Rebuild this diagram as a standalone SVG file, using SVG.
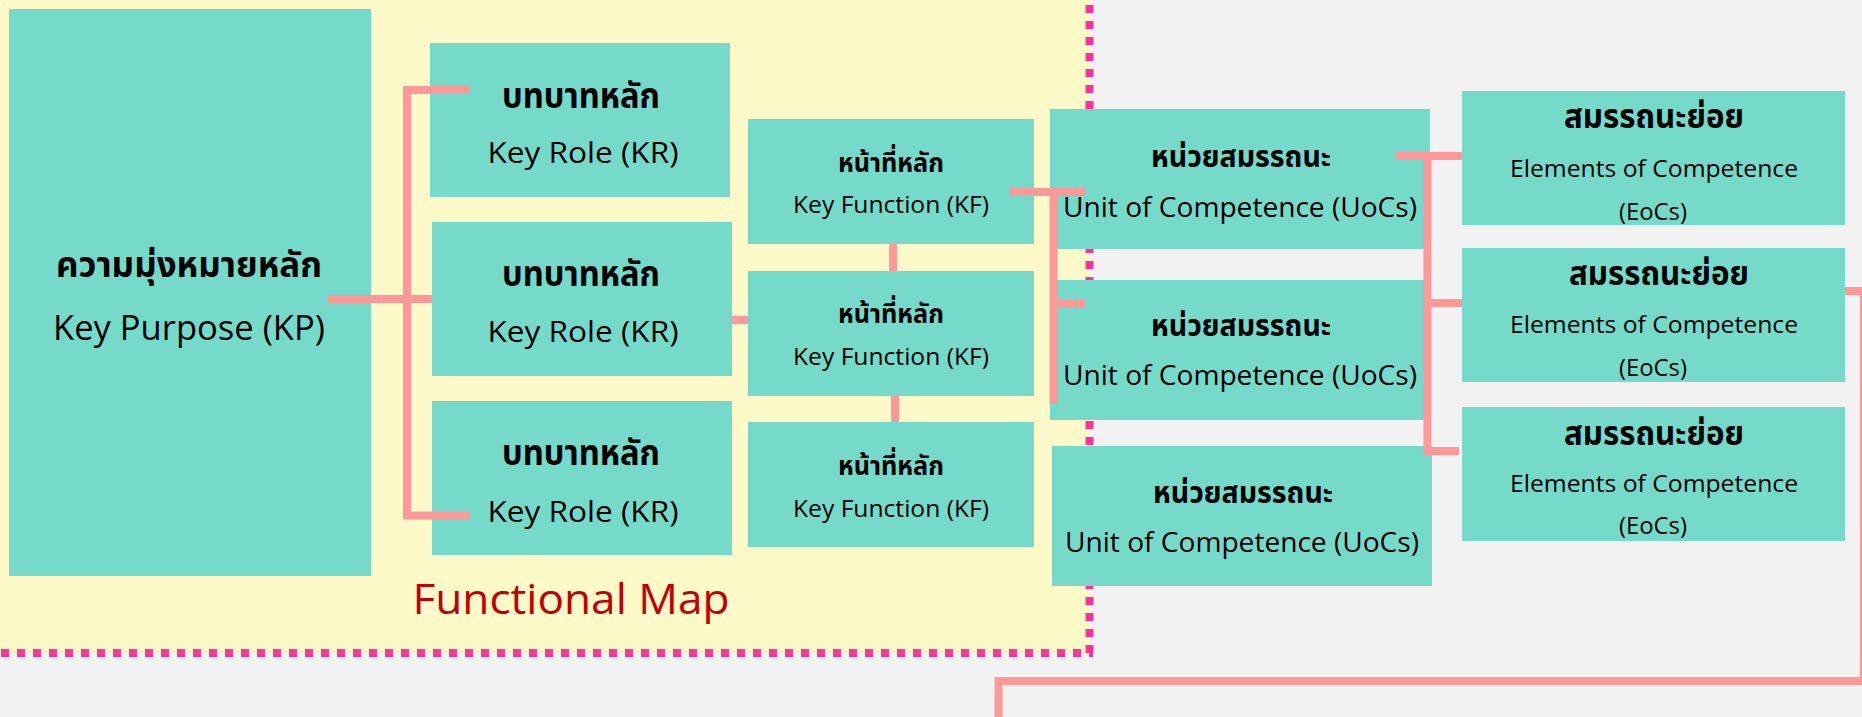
<svg xmlns="http://www.w3.org/2000/svg" width="1862" height="717" viewBox="0 0 1862 717">
<style>
.box{fill:#76DACA}
.th{font-family:"Noto Sans Thai","Noto Sans Thai UI","Leelawadee UI","Noto Sans","Liberation Sans",sans-serif;font-weight:bold;fill:#000;text-anchor:middle}
.en{font-family:"Open Sans","Noto Sans","Liberation Sans",sans-serif;fill:#000;text-anchor:middle}
.con{fill:none;stroke:#FF9999;stroke-width:8;stroke-linejoin:miter;stroke-linecap:butt}
.dot{fill:none;stroke:#FF3399;stroke-width:8;stroke-dasharray:8 8}
</style>
<rect x="0" y="0" width="1862" height="717" fill="#F2F2F2"/>
<g id="functional-map-area">
<rect x="0" y="0" width="1090" height="653" fill="#FEF9C9"/>
<line class="dot" x1="1089.5" y1="5" x2="1089.5" y2="657"/>
<line class="dot" x1="1" y1="653" x2="1093" y2="653"/>
<text x="571" y="614" font-family="Open Sans, Noto Sans, Liberation Sans, sans-serif" font-size="42" fill="#C00000" text-anchor="middle" textLength="317" lengthAdjust="spacingAndGlyphs">Functional Map</text>
</g>
<g id="kp">
<rect class="box" x="9" y="9" width="362" height="567"/>
<text class="th" x="189" y="277" font-size="36" textLength="266" lengthAdjust="spacingAndGlyphs">ความมุ่งหมายหลัก</text>
<text class="en" x="189" y="340" font-size="35" textLength="272" lengthAdjust="spacingAndGlyphs">Key Purpose (KP)</text>
</g>
<g id="kr1">
<rect class="box" x="430" y="43" width="300" height="154"/>
<text class="th" x="581" y="108" font-size="36" textLength="158" lengthAdjust="spacingAndGlyphs">บทบาทหลัก</text>
<text class="en" x="583" y="163" font-size="30" textLength="191" lengthAdjust="spacingAndGlyphs">Key Role (KR)</text>
</g>
<g id="kr2">
<rect class="box" x="432" y="222" width="300" height="154"/>
<text class="th" x="581" y="286" font-size="36" textLength="158" lengthAdjust="spacingAndGlyphs">บทบาทหลัก</text>
<text class="en" x="583" y="342" font-size="30" textLength="191" lengthAdjust="spacingAndGlyphs">Key Role (KR)</text>
</g>
<g id="kr3">
<rect class="box" x="432" y="401" width="300" height="154"/>
<text class="th" x="581" y="465" font-size="36" textLength="158" lengthAdjust="spacingAndGlyphs">บทบาทหลัก</text>
<text class="en" x="583" y="522" font-size="30" textLength="191" lengthAdjust="spacingAndGlyphs">Key Role (KR)</text>
</g>
<g id="kf1">
<rect class="box" x="748" y="119" width="286" height="125"/>
<text class="th" x="891" y="172" font-size="27" textLength="106" lengthAdjust="spacingAndGlyphs">หน้าที่หลัก</text>
<text class="en" x="891" y="213" font-size="23" textLength="196" lengthAdjust="spacingAndGlyphs">Key Function (KF)</text>
</g>
<g id="kf2">
<rect class="box" x="748" y="271" width="286" height="125"/>
<text class="th" x="891" y="323" font-size="27" textLength="106" lengthAdjust="spacingAndGlyphs">หน้าที่หลัก</text>
<text class="en" x="891" y="365" font-size="23" textLength="196" lengthAdjust="spacingAndGlyphs">Key Function (KF)</text>
</g>
<g id="kf3">
<rect class="box" x="748" y="422" width="286" height="125"/>
<text class="th" x="891" y="475" font-size="27" textLength="106" lengthAdjust="spacingAndGlyphs">หน้าที่หลัก</text>
<text class="en" x="891" y="517" font-size="23" textLength="196" lengthAdjust="spacingAndGlyphs">Key Function (KF)</text>
</g>
<g id="uoc1">
<rect class="box" x="1050" y="109" width="380" height="140"/>
<text class="th" x="1241" y="167" font-size="30" textLength="180" lengthAdjust="spacingAndGlyphs">หน่วยสมรรถนะ</text>
<text class="en" x="1240" y="217" font-size="28" textLength="354" lengthAdjust="spacingAndGlyphs">Unit of Competence (UoCs)</text>
</g>
<g id="uoc2">
<rect class="box" x="1050" y="280" width="380" height="140"/>
<text class="th" x="1241" y="336" font-size="30" textLength="180" lengthAdjust="spacingAndGlyphs">หน่วยสมรรถนะ</text>
<text class="en" x="1240" y="385" font-size="28" textLength="354" lengthAdjust="spacingAndGlyphs">Unit of Competence (UoCs)</text>
</g>
<g id="uoc3">
<rect class="box" x="1052" y="446" width="380" height="140"/>
<text class="th" x="1243" y="503" font-size="30" textLength="180" lengthAdjust="spacingAndGlyphs">หน่วยสมรรถนะ</text>
<text class="en" x="1242" y="552" font-size="28" textLength="354" lengthAdjust="spacingAndGlyphs">Unit of Competence (UoCs)</text>
</g>
<g id="eoc1">
<rect class="box" x="1462" y="91" width="383" height="134"/>
<text class="th" x="1654" y="128" font-size="33" textLength="180" lengthAdjust="spacingAndGlyphs">สมรรถนะย่อย</text>
<text class="en" x="1654" y="177" font-size="24" textLength="288" lengthAdjust="spacingAndGlyphs">Elements of Competence</text>
<text class="en" x="1653" y="220" font-size="24" textLength="68" lengthAdjust="spacingAndGlyphs">(EoCs)</text>
</g>
<g id="eoc2">
<rect class="box" x="1462" y="248" width="383" height="134"/>
<text class="th" x="1659" y="285" font-size="33" textLength="180" lengthAdjust="spacingAndGlyphs">สมรรถนะย่อย</text>
<text class="en" x="1654" y="333" font-size="24" textLength="288" lengthAdjust="spacingAndGlyphs">Elements of Competence</text>
<text class="en" x="1653" y="376" font-size="24" textLength="68" lengthAdjust="spacingAndGlyphs">(EoCs)</text>
</g>
<g id="eoc3">
<rect class="box" x="1462" y="407" width="383" height="134"/>
<text class="th" x="1654" y="445" font-size="33" textLength="180" lengthAdjust="spacingAndGlyphs">สมรรถนะย่อย</text>
<text class="en" x="1654" y="492" font-size="24" textLength="288" lengthAdjust="spacingAndGlyphs">Elements of Competence</text>
<text class="en" x="1653" y="534" font-size="24" textLength="68" lengthAdjust="spacingAndGlyphs">(EoCs)</text>
</g>
<g id="connectors">
<path class="con" d="M328,299 H432"/>
<path class="con" d="M470,90 H407 V515.5 H470"/>
<path class="con" d="M732,320 H748"/>
<path class="con" d="M893,243 V271"/>
<path class="con" d="M895,396 V422"/>
<path class="con" d="M1009,192 H1085 M1053.5,188 V404 M1053.5,304 H1086"/>
<path class="con" d="M1395,156 H1462 M1427.4,152 V455 M1427.4,303 H1462 M1427.4,451 H1459"/>
<path class="con" d="M1845,291 H1864 V681 H998.5 V720"/>
</g>
</svg>
